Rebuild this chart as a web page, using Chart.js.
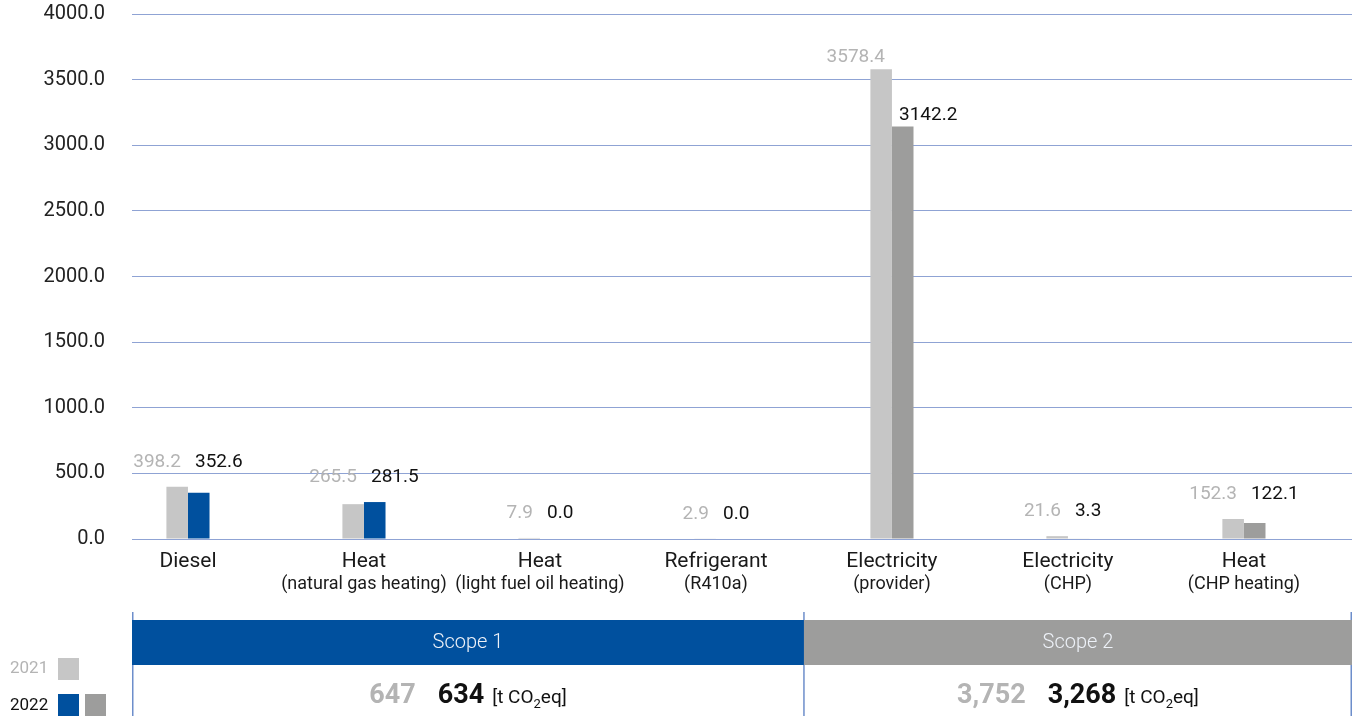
<!DOCTYPE html>
<html>
<head>
<meta charset="utf-8">
<script src="https://cdn.jsdelivr.net/npm/chart.js@4.4.1/dist/chart.umd.min.js"></script>
<style>
  html, body { margin: 0; padding: 0; background: #ffffff; }
  canvas { display: block; }
</style>
</head>
<body>
<canvas id="emissions" width="1352" height="716"></canvas>
<script>
// Emission sources (t CO2eq), grouped into Scope 1 and Scope 2
const categories = ['Diesel', 'Heat', 'Heat', 'Refrigerant', 'Electricity', 'Electricity', 'Heat'];
const subtitles = ['', '(natural gas heating)', '(light fuel oil heating)', '(R410a)', '(provider)', '(CHP)', '(CHP heating)'];
const scopeOf = [1, 1, 1, 1, 2, 2, 2];
const values2021 = [398.2, 265.5, 7.9, 2.9, 3578.4, 21.6, 152.3];
const values2022 = [352.6, 281.5, 0.0, 0.0, 3142.2, 3.3, 122.1];
const years = ['2021', '2022'];
const scopeNames = ['Scope 1', 'Scope 2'];
const totals2021 = ['647', '3,752'];
const totals2022 = ['634', '3,268'];
const unitParts = ['[t CO', '2', 'eq]'];
const yMin = 0, yMax = 4000, yStep = 500;

const FONT = 'Roboto, "Noto Sans", "DejaVu Sans", sans-serif';
const COLOR_2021 = '#c6c6c6';
const COLOR_SCOPE1 = '#00509e';
const COLOR_SCOPE2 = '#9d9d9c';
const TEXT_2021 = '#b4b4b4';
const TEXT_2022 = '#111111';
const GRID = '#8fa3d4';
const FRAME = '#6d8ecb';

const indexOf = categories.map((_, i) => i);

// Value labels, second label lines, scope bands, totals and year key
const overlay = {
  id: 'overlay',
  afterDatasetsDraw(chart) {
    const ctx = chart.ctx;
    const area = chart.chartArea;
    const xs = chart.scales.x;
    const bars21 = chart.getDatasetMeta(0).data;
    const bars22 = chart.getDatasetMeta(1).data;
    ctx.save();

    // numbers above each pair of bars
    ctx.font = `19px ${FONT}`;
    ctx.textBaseline = 'alphabetic';
    indexOf.forEach(i => {
      const a = bars21[i], b = bars22[i];
      const center = (a.x + b.x) / 2;
      let ya, yb;
      if (Math.abs(a.y - b.y) < 40) {
        ya = yb = Math.min(a.y, b.y) - 20;
      } else {
        ya = a.y - 7;
        yb = b.y - 7;
      }
      ctx.fillStyle = TEXT_2021;
      ctx.textAlign = 'right';
      ctx.fillText(values2021[i].toFixed(1), center - 7, ya);
      ctx.fillStyle = TEXT_2022;
      ctx.textAlign = 'left';
      ctx.fillText(values2022[i].toFixed(1), center + 7, yb);
    });

    // second line of the category labels
    ctx.font = `18px ${FONT}`;
    ctx.fillStyle = '#1a1a1a';
    ctx.textAlign = 'center';
    ctx.textBaseline = 'middle';
    subtitles.forEach((s, i) => {
      if (s) ctx.fillText(s, xs.getPixelForValue(i), 584);
    });

    // scope bands
    const split = xs.getPixelForValue(3.5);
    const bounds = [[area.left, split], [split, area.right]];
    const bandTop = 620, bandBottom = 665;
    const bandColors = [COLOR_SCOPE1, COLOR_SCOPE2];
    ctx.strokeStyle = FRAME;
    ctx.lineWidth = 1.5;
    [area.left + 0.75, split, area.right - 0.75].forEach(x => {
      ctx.beginPath();
      ctx.moveTo(x, 612);
      ctx.lineTo(x, chart.height);
      ctx.stroke();
    });
    bounds.forEach(([l, r], k) => {
      ctx.fillStyle = bandColors[k];
      ctx.fillRect(l, bandTop, r - l, bandBottom - bandTop);
      ctx.fillStyle = '#eef2f8';
      ctx.font = `300 20px ${FONT}`;
      ctx.textAlign = 'center';
      ctx.textBaseline = 'middle';
      ctx.fillText(scopeNames[k], (l + r) / 2, (bandTop + bandBottom) / 2);

      // totals row
      const base = 703;
      ctx.textBaseline = 'alphabetic';
      ctx.textAlign = 'left';
      ctx.font = `bold 27px ${FONT}`;
      const w1 = ctx.measureText(totals2021[k]).width;
      const w2 = ctx.measureText(totals2022[k]).width;
      ctx.font = `19px ${FONT}`;
      const u0 = ctx.measureText(unitParts[0]).width;
      const u2 = ctx.measureText(unitParts[2]).width;
      ctx.font = `13px ${FONT}`;
      const u1 = ctx.measureText(unitParts[1]).width;
      const gap1 = 22, gap2 = 8;
      const total = w1 + gap1 + w2 + gap2 + u0 + u1 + u2;
      let x = (l + r) / 2 - total / 2;
      ctx.font = `bold 27px ${FONT}`;
      ctx.fillStyle = TEXT_2021;
      ctx.fillText(totals2021[k], x, base);
      x += w1 + gap1;
      ctx.fillStyle = TEXT_2022;
      ctx.fillText(totals2022[k], x, base);
      x += w2 + gap2;
      ctx.font = `19px ${FONT}`;
      ctx.fillText(unitParts[0], x, base);
      x += u0;
      ctx.font = `13px ${FONT}`;
      ctx.fillText(unitParts[1], x, base + 5);
      x += u1;
      ctx.font = `19px ${FONT}`;
      ctx.fillText(unitParts[2], x, base);
    });

    // year key
    ctx.font = `17px ${FONT}`;
    ctx.textAlign = 'left';
    ctx.textBaseline = 'middle';
    ctx.fillStyle = TEXT_2021;
    ctx.fillText(years[0], 10, 669);
    ctx.fillStyle = COLOR_2021;
    ctx.fillRect(58, 658, 21, 22);
    ctx.fillStyle = TEXT_2022;
    ctx.fillText(years[1], 10, 706);
    ctx.fillStyle = COLOR_SCOPE1;
    ctx.fillRect(58, 694, 21, 22);
    ctx.fillStyle = COLOR_SCOPE2;
    ctx.fillRect(85, 694, 21, 22);

    ctx.restore();
  }
};

new Chart(document.getElementById('emissions'), {
  type: 'bar',
  data: {
    datasets: [
      {
        label: years[0],
        data: values2021.map((v, i) => ({ x: i, y: v })),
        backgroundColor: COLOR_2021
      },
      {
        label: years[1],
        data: values2022.map((v, i) => ({ x: i, y: v })),
        backgroundColor: scopeOf.map(s => (s === 1 ? COLOR_SCOPE1 : COLOR_SCOPE2))
      }
    ]
  },
  options: {
    responsive: false,
    animation: false,
    devicePixelRatio: 1,
    layout: { padding: { top: 14, right: 0, bottom: 0, left: 0 } },
    categoryPercentage: 0.245,
    barPercentage: 1.0,
    plugins: {
      legend: { display: false },
      tooltip: { enabled: false }
    },
    scales: {
      x: {
        type: 'linear',
        offset: false,
        min: -0.318,
        max: 6.614,
        afterBuildTicks: axis => { axis.ticks = indexOf.map(i => ({ value: i })); },
        afterFit: axis => { axis.height = 177; },
        grid: { display: false, drawTicks: false },
        border: { display: false },
        ticks: {
          autoSkip: false,
          maxRotation: 0,
          padding: 10,
          color: '#1a1a1a',
          font: { family: FONT, size: 21 },
          callback: v => categories[Math.round(v)]
        }
      },
      y: {
        min: yMin,
        max: yMax,
        afterFit: axis => {
          axis.width = 132;
          axis.paddingTop = 0;
          axis.paddingBottom = 0;
        },
        grid: { color: GRID, lineWidth: 1, drawTicks: false },
        border: { display: false },
        ticks: {
          stepSize: yStep,
          padding: 27,
          color: '#222222',
          font: { family: FONT, size: 20 },
          callback: v => v.toFixed(1)
        }
      }
    }
  },
  plugins: [overlay]
});
</script>
</body>
</html>
